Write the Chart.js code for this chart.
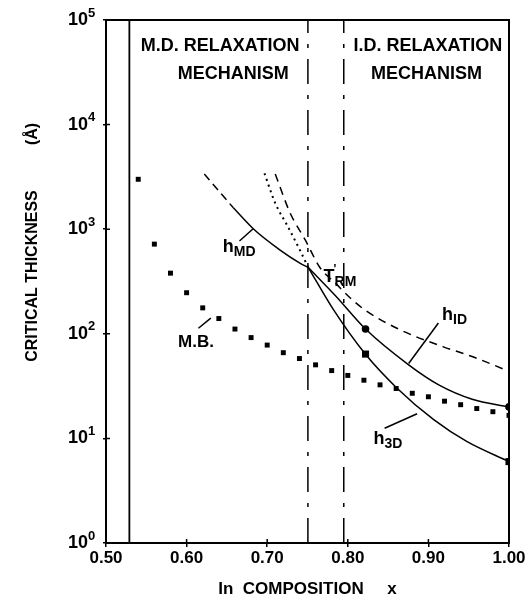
<!DOCTYPE html>
<html><head><meta charset="utf-8">
<script src="https://cdn.jsdelivr.net/npm/chart.js@4/dist/chart.umd.min.js"></script>
<style>html,body{margin:0;padding:0;background:#fff;}canvas{display:block;}</style>
</head><body>
<canvas id="c" width="529" height="601"></canvas>
<script>
// ---- axis ticks ----
const xTicks = [0.50, 0.60, 0.70, 0.80, 0.90, 1.00];
const yTicks = [1, 10, 100, 1000, 10000, 100000];
const yTickExp = ['0', '1', '2', '3', '4', '5'];

// ---- M.B. data points ----
const mbX = [0.54,0.56,0.58,0.60,0.62,0.64,0.66,0.68,0.70,0.72,0.74,0.76,0.78,0.80,0.82,0.84,0.86,0.88,0.90,0.92,0.94,0.96,0.98,1.00];
const mbY = [3000,720,380,247,177,140,111,92,78,66,58,50.5,44.5,40,36,32.5,30,27,25,22.7,21,19.3,18,16.6];

// ---- h_MD curve (dashed extension + solid) ----
const hmdDashX = [0.622, 0.640, 0.658];
const hmdDashY = [3370, 2320, 1600];
const hmdX = [0.658, 0.683, 0.716, 0.741, 0.751];
const hmdY = [1600, 1005, 632, 472, 430];

// ---- dashed curve (steep, then flattening to x = 1.00) ----
const dashX = [0.710, 0.7286, 0.7472, 0.7658, 0.7845, 0.8031, 0.823, 0.8652, 0.9186, 0.9559, 0.9932];
const dashY = [3370, 1420, 790, 426, 306, 220, 165, 109, 75, 60, 46];

// ---- dotted curve ----
const dotX = [0.6966, 0.710, 0.7245, 0.7389, 0.751];
const dotY = [3420, 1770, 1100, 670, 430];

// ---- h_ID curve ----
const hidX = [0.751, 0.785, 0.822, 0.8755, 0.9128, 0.9543, 1.00];
const hidY = [430, 230, 111, 50.5, 32.5, 23.7, 20];
const hidMarkX = [0.822, 1.00];
const hidMarkY = [111, 20];

// ---- h_3D curve ----
const h3dX = [0.751, 0.7824, 0.8217, 0.8611, 0.9066, 0.948, 1.00];
const h3dY = [430, 169, 64, 30.2, 15.1, 9.3, 6.0];
const h3dMarkX = [0.822, 1.00];
const h3dMarkY = [64, 6];

// ---- vertical boundaries ----
const vSolidX = [0.529];
const vDashDotX = [0.7505, 0.795];

// ---- labels & leader lines ----
const leaderMD = [[0.6656, 771], [0.6822, 1004]];
const leaderID = [[0.9124, 127], [0.8755, 52]];
const leader3D = [[0.8457, 12.5], [0.886, 17.2]];
const leaderMB = [[0.6147, 113], [0.630, 141]];
const curveLabels = [
  {main: 'h', sub: 'MD', x: 0.645, y: 610},
  {main: 'T', prime: true, sub: 'RM', x: 0.770, y: 315},
  {main: 'h', sub: 'ID', x: 0.9169, y: 135},
  {main: 'h', sub: '3D', x: 0.832, y: 8.9},
  {main: 'M.B.', sub: '', x: 0.5894, y: 75}
];
const regionLabels = [
  {text: 'M.D. RELAXATION', x: 0.6416, y: 57000},
  {text: 'MECHANISM', x: 0.6578, y: 30300},
  {text: 'I.D. RELAXATION', x: 0.8994, y: 57000},
  {text: 'MECHANISM', x: 0.8975, y: 30300}
];
const xTitle = 'In  COMPOSITION     x';
const yTitleMain = 'CRITICAL THICKNESS';
const yTitleUnit = '(Å)';

const FONT = "'Liberation Sans', Arial, Helvetica, sans-serif";
Chart.defaults.font.family = FONT;
Chart.defaults.font.weight = 'bold';
Chart.defaults.color = '#000';

const pts = (xs, ys) => xs.map((x, i) => ({x: x, y: ys[i]}));
const seg = a => a.map(p => ({x: p[0], y: p[1]}));
const vline = x => [{x: x, y: 1}, {x: x, y: 100000}];

const lineDs = (data, extra) => Object.assign({
  data: data, showLine: true, borderColor: '#000', backgroundColor: '#000',
  borderWidth: 1.5, pointRadius: 0, fill: false, cubicInterpolationMode: 'monotone'
}, extra || {});
const straight = {cubicInterpolationMode: 'default', tension: 0};

const datasets = [
  lineDs(vline(vSolidX[0]), Object.assign({borderWidth: 1.8}, straight)),
  ...vDashDotX.map(v => lineDs(vline(v), Object.assign({borderWidth: 1.5, borderDash: [25, 11, 4, 11]}, straight))),
  lineDs(pts(hmdDashX, hmdDashY), {borderDash: [8, 5]}),
  lineDs(pts(hmdX, hmdY)),
  lineDs(pts(dashX, dashY), {borderDash: [8, 6]}),
  lineDs(pts(dotX, dotY), {borderDash: [2, 4], borderWidth: 2}),
  lineDs(pts(hidX, hidY)),
  lineDs(pts(h3dX, h3dY)),
  lineDs(seg(leaderMD), straight),
  lineDs(seg(leaderID), straight),
  lineDs(seg(leader3D), straight),
  lineDs(seg(leaderMB), straight),
  {data: pts(mbX, mbY), showLine: false, pointStyle: 'rect', pointRadius: 3.5,
   backgroundColor: '#000', borderColor: '#000', borderWidth: 0},
  {data: pts(hidMarkX, hidMarkY), showLine: false, pointStyle: 'circle', pointRadius: 3.8,
   backgroundColor: '#000', borderColor: '#000', borderWidth: 0},
  {data: pts(h3dMarkX, h3dMarkY), showLine: false, pointStyle: 'rect', pointRadius: 5,
   backgroundColor: '#000', borderColor: '#000', borderWidth: 0}
];

const decorPlugin = {
  id: 'decor',
  afterDraw(chart) {
    const ctx = chart.ctx, a = chart.chartArea;
    const xs = chart.scales.x, ys = chart.scales.y;
    ctx.save();
    // frame
    ctx.strokeStyle = '#000';
    ctx.lineWidth = 2;
    ctx.strokeRect(a.left, a.top, a.right - a.left, a.bottom - a.top);
    // inner tick stubs
    ctx.lineWidth = 1.5;
    ctx.beginPath();
    xs.ticks.forEach(t => {
      const p = xs.getPixelForValue(t.value);
      ctx.moveTo(p, a.bottom); ctx.lineTo(p, a.bottom - 4);
    });
    ys.ticks.forEach(t => {
      const p = ys.getPixelForValue(t.value);
      ctx.moveTo(a.left, p); ctx.lineTo(a.left + 4, p);
    });
    ctx.stroke();
    ctx.fillStyle = '#000';
    // exponents of the y tick labels (superscripts after "10")
    ctx.textAlign = 'left';
    ctx.textBaseline = 'middle';
    ctx.font = 'bold 13px ' + FONT;
    ys.ticks.forEach(t => {
      const i = yTicks.indexOf(t.value);
      const p = ys.getPixelForValue(t.value);
      ctx.fillText(yTickExp[i], a.left - 18, p - 7);
    });
    // region labels
    ctx.textAlign = 'center';
    ctx.textBaseline = 'middle';
    ctx.font = 'bold 18px ' + FONT;
    regionLabels.forEach(r => {
      ctx.fillText(r.text, xs.getPixelForValue(r.x), ys.getPixelForValue(r.y));
    });
    // curve labels
    ctx.textAlign = 'left';
    ctx.textBaseline = 'alphabetic';
    curveLabels.forEach(l => {
      const px = xs.getPixelForValue(l.x), py = ys.getPixelForValue(l.y);
      const big = l.main === 'M.B.' ? 17 : 18;
      ctx.font = 'bold ' + big + 'px ' + FONT;
      ctx.fillText(l.main, px, py);
      const w = ctx.measureText(l.main).width;
      if (l.prime) {
        ctx.font = 'bold 12px ' + FONT;
        ctx.fillText("'", px + w - 1, py - 9);
      }
      if (l.sub) {
        ctx.font = 'bold 14px ' + FONT;
        ctx.fillText(l.sub, px + w, py + 4);
      }
    });
    // y-axis title
    ctx.translate(33, 0);
    ctx.rotate(-Math.PI / 2);
    ctx.textAlign = 'center';
    ctx.textBaseline = 'middle';
    ctx.font = 'bold 16px ' + FONT;
    ctx.fillText(yTitleMain, -276, 0);
    ctx.fillText(yTitleUnit, -134, 0);
    ctx.restore();
  }
};

new Chart(document.getElementById('c'), {
  type: 'scatter',
  data: {datasets: datasets},
  options: {
    responsive: false,
    animation: false,
    devicePixelRatio: 1,
    layout: {padding: {top: 20, right: 20, left: 0, bottom: 0}},
    plugins: {legend: {display: false}, tooltip: {enabled: false}},
    scales: {
      x: {
        type: 'linear', min: 0.5, max: 1.0,
        afterBuildTicks: s => { s.ticks = xTicks.map(v => ({value: v})); },
        afterFit: s => { s.height = 58; },
        ticks: {callback: v => Number(v).toFixed(2), font: {size: 17, weight: 'bold'}, color: '#000',
                padding: 1, maxRotation: 0, autoSkip: false},
        grid: {drawOnChartArea: false, tickLength: 4, color: '#000', lineWidth: 1.5},
        border: {color: '#000', width: 2},
        title: {display: true, text: xTitle, font: {size: 17, weight: 'bold'}, color: '#000',
                padding: {top: 0, bottom: 1}}
      },
      y: {
        type: 'logarithmic', min: 1, max: 100000,
        afterBuildTicks: s => { s.ticks = yTicks.map(v => ({value: v})); },
        afterFit: s => { s.width = 106; s.paddingTop = 0; s.paddingBottom = 0; },
        ticks: {callback: () => '10', font: {size: 18, weight: 'bold'},
                color: '#000', padding: 15, autoSkip: false},
        grid: {drawOnChartArea: false, tickLength: 3, color: '#000', lineWidth: 1.5},
        border: {color: '#000', width: 2}
      }
    }
  },
  plugins: [decorPlugin]
});
</script>
</body></html>
